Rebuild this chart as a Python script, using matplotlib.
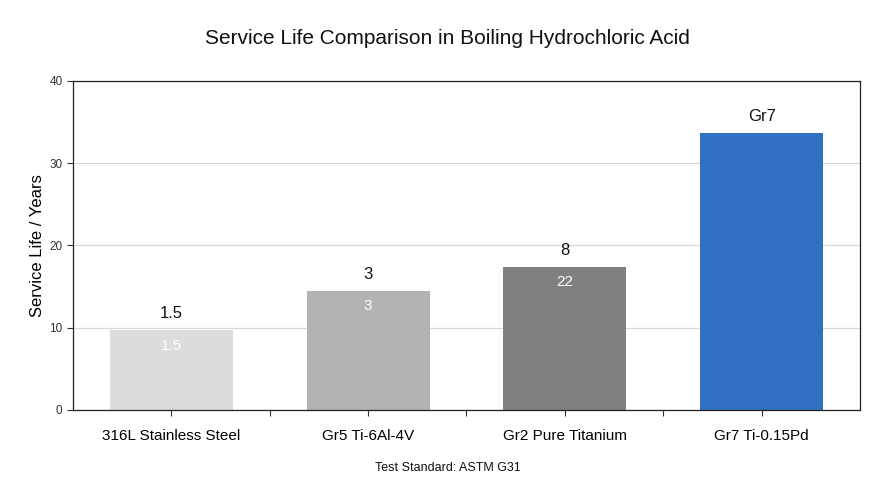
import matplotlib
matplotlib.use("Agg")
import matplotlib.pyplot as plt

plt.rcParams['font.family'] = ['Liberation Sans', 'DejaVu Sans']

categories = ["316L Stainless Steel", "Gr5 Ti-6Al-4V", "Gr2 Pure Titanium", "Gr7 Ti-0.15Pd"]
values = [9.7, 14.5, 17.4, 33.7]
top_labels = ["1.5", "3", "8", "Gr7"]
inner_labels = ["1.5", "3", "22", ""]
colors = ["#dcdcda", "#b3b3b3", "#808080", "#2f71c0"]

fig = plt.figure(figsize=(8.95, 5.0), dpi=100)
ax = fig.add_axes([73/895, 90/500, (860-73)/895, (410-81)/500])

x = list(range(len(categories)))
bars = ax.bar(x, values, width=0.625, color=colors, zorder=2)

ax.set_xlim(-0.5, 3.5)
ax.set_ylim(0, 40)
ax.set_yticks([0, 10, 20, 30, 40])
ax.set_xticks(x)
ax.set_xticklabels(categories, fontsize=11)
ax.set_xticks([0.5, 1.5, 2.5], minor=True)
ax.tick_params(axis='x', which='both', length=4, width=0.8, color='#333333', pad=10)
ax.tick_params(axis='y', labelsize=8.5, length=4, width=0.8, color='#333333', labelcolor='#333333')
ax.yaxis.grid(True, color='#d9d9d9', linewidth=0.9, zorder=0)
ax.set_axisbelow(True)
for s in ax.spines.values():
    s.set_color('#222222')
    s.set_linewidth(0.9)

ax.set_ylabel("Service Life / Years", fontsize=12, labelpad=3)

for xi, v, tl, il in zip(x, values, top_labels, inner_labels):
    ax.annotate(tl, (xi, v), xytext=(0, 6.5), textcoords='offset points',
                ha='center', va='bottom', fontsize=12, color='#111111')
    if il:
        ax.annotate(il, (xi, v), xytext=(0, -6), textcoords='offset points',
                    ha='center', va='top', fontsize=11, color='white')

fig.text(0.5, 1 - 38/500, "Service Life Comparison in Boiling Hydrochloric Acid",
         ha='center', va='center', fontsize=15, color='#111111')
fig.text(0.5, 1 - 468/500, "Test Standard: ASTM G31", ha='center', va='center',
         fontsize=9, color='#111111')

fig.savefig("out.png", dpi=100)
